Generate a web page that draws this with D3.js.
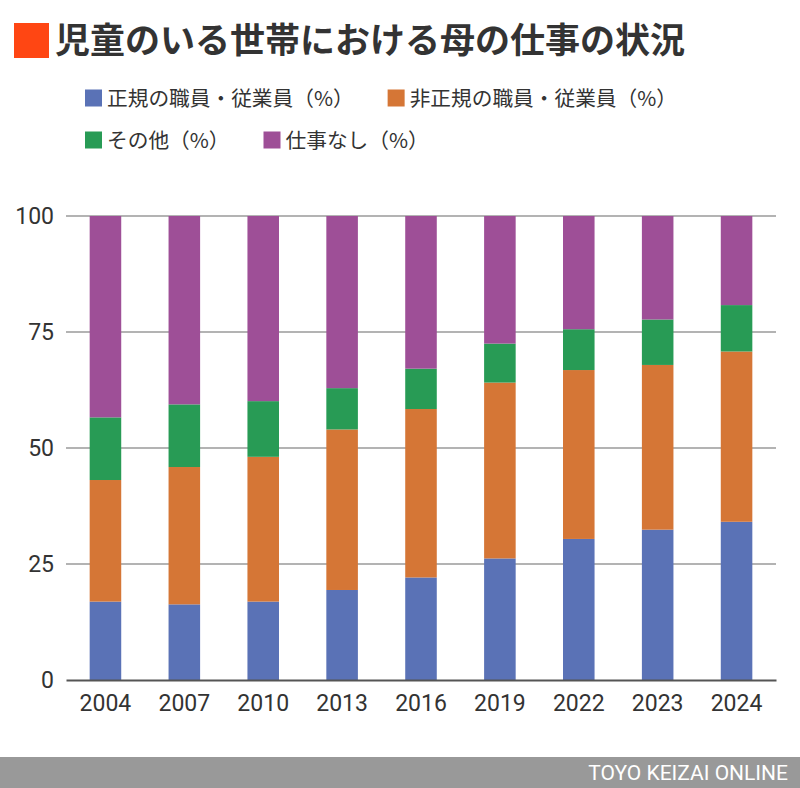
<!DOCTYPE html>
<html>
<head>
<meta charset="utf-8">
<script src="https://cdn.jsdelivr.net/npm/d3@7"></script>
<style>
    body { margin: 0; background: #fff; }
    svg { display: block; }
    .title { font-family: "Noto Sans CJK JP", sans-serif; font-weight: 700; font-size: 35px; fill: #333; }
    .legend text { font-family: "Noto Sans CJK JP", sans-serif; font-size: 20.7px; fill: #333; }
    .axis text { font-family: Roboto, sans-serif; font-size: 23px; fill: #333; }
    .footer text { font-family: Roboto, sans-serif; font-size: 21px; fill: #fff; }
</style>
</head>
<body>
<svg id="chart" width="800" height="788"></svg>
<script>
    // survey years
    const years = ["2004", "2007", "2010", "2013", "2016", "2019", "2022", "2023", "2024"];

    // series values (%)
    const seiki    = [16.9, 16.3, 16.9, 19.4, 22.1, 26.2, 30.4, 32.4, 34.1];
    const hiseiki  = [26.2, 29.6, 31.2, 34.6, 36.3, 37.9, 36.4, 35.5, 36.7];
    const sonota   = [13.5, 13.5, 12.0,  8.9,  8.7,  8.4,  8.8,  9.8, 10.0];
    const shigoto  = [43.4, 40.6, 39.9, 37.1, 32.9, 27.5, 24.4, 22.3, 19.2];

    const seriesNames = ["正規の職員・従業員（%）", "非正規の職員・従業員（%）", "その他（%）", "仕事なし（%）"];
    const colors = ["#5a72b6", "#d57636", "#289b55", "#9e4f97"];
    const yTicks = [0, 25, 50, 75, 100];

    const title = "児童のいる世帯における母の仕事の状況";
    const credit = "TOYO KEIZAI ONLINE";

    const svg = d3.select("#chart");
    const margin = {top: 216, right: 24, bottom: 108, left: 66};
    const width = 800 - margin.left - margin.right;
    const height = 788 - margin.top - margin.bottom;

    // build rows for the stack
    const keys = ["seiki", "hiseiki", "sonota", "shigoto"];
    const rows = years.map((y, i) => ({
        year: y, seiki: seiki[i], hiseiki: hiseiki[i], sonota: sonota[i], shigoto: shigoto[i]
    }));
    const stacked = d3.stack().keys(keys)(rows);

    const x = d3.scaleBand().domain(years).range([0, width]).paddingInner(0.6).paddingOuter(0.3);
    const y = d3.scaleLinear().domain([0, 100]).range([height, 0]);

    // title
    svg.append("rect").attr("x", 14).attr("y", 23).attr("width", 35).attr("height", 35).attr("fill", "#ff4613");
    svg.append("text").attr("class", "title").attr("x", 55).attr("y", 53).text(title);

    // legend, two rows
    const legendRows = [[0, 1], [2, 3]];
    const legend = svg.append("g").attr("class", "legend");
    legendRows.forEach((row, r) => {
        let cx = 85;
        const cy = 98 + r * 42;
        row.forEach(idx => {
            legend.append("rect").attr("x", cx).attr("y", cy - 8.5).attr("width", 17).attr("height", 17).attr("fill", colors[idx]);
            const t = legend.append("text").attr("x", cx + 22).attr("y", cy + 7.5).text(seriesNames[idx]);
            // full-width closing paren carries its own blank half, so the gap is small
            cx += 22 + t.node().getComputedTextLength() + 34;
        });
    });

    const chart = svg.append("g").attr("transform", "translate(" + margin.left + "," + margin.top + ")");

    // gridlines
    chart.append("g").selectAll("line").data(yTicks.filter(d => d > 0)).enter().append("line")
        .attr("x1", 0).attr("x2", width)
        .attr("y1", d => y(d)).attr("y2", d => y(d))
        .attr("stroke", "#9a9a9a").attr("stroke-width", 1.3);

    // y labels
    const yAxis = chart.append("g").attr("class", "axis")
        .call(d3.axisLeft(y).tickValues(yTicks).tickSize(0).tickPadding(12));
    yAxis.select(".domain").remove();

    // bars
    chart.append("g").selectAll("g").data(stacked).enter().append("g")
        .attr("fill", (d, i) => colors[i])
        .selectAll("rect").data(d => d).enter().append("rect")
            .attr("x", d => x(d.data.year))
            .attr("width", x.bandwidth())
            .attr("y", d => y(d[1]))
            .attr("height", d => y(d[0]) - y(d[1]));

    // baseline and x labels
    const xAxis = chart.append("g").attr("class", "axis").attr("transform", "translate(0," + height + ")")
        .call(d3.axisBottom(x).tickSize(0).tickPadding(15));
    xAxis.select(".domain").attr("stroke", "#555").attr("stroke-width", 2);

    // footer
    const footer = svg.append("g").attr("class", "footer");
    footer.append("rect").attr("x", 0).attr("y", 757).attr("width", 800).attr("height", 31).attr("fill", "#999");
    footer.append("text").attr("x", 788).attr("y", 780).attr("text-anchor", "end").text(credit);
</script>
</body>
</html>
